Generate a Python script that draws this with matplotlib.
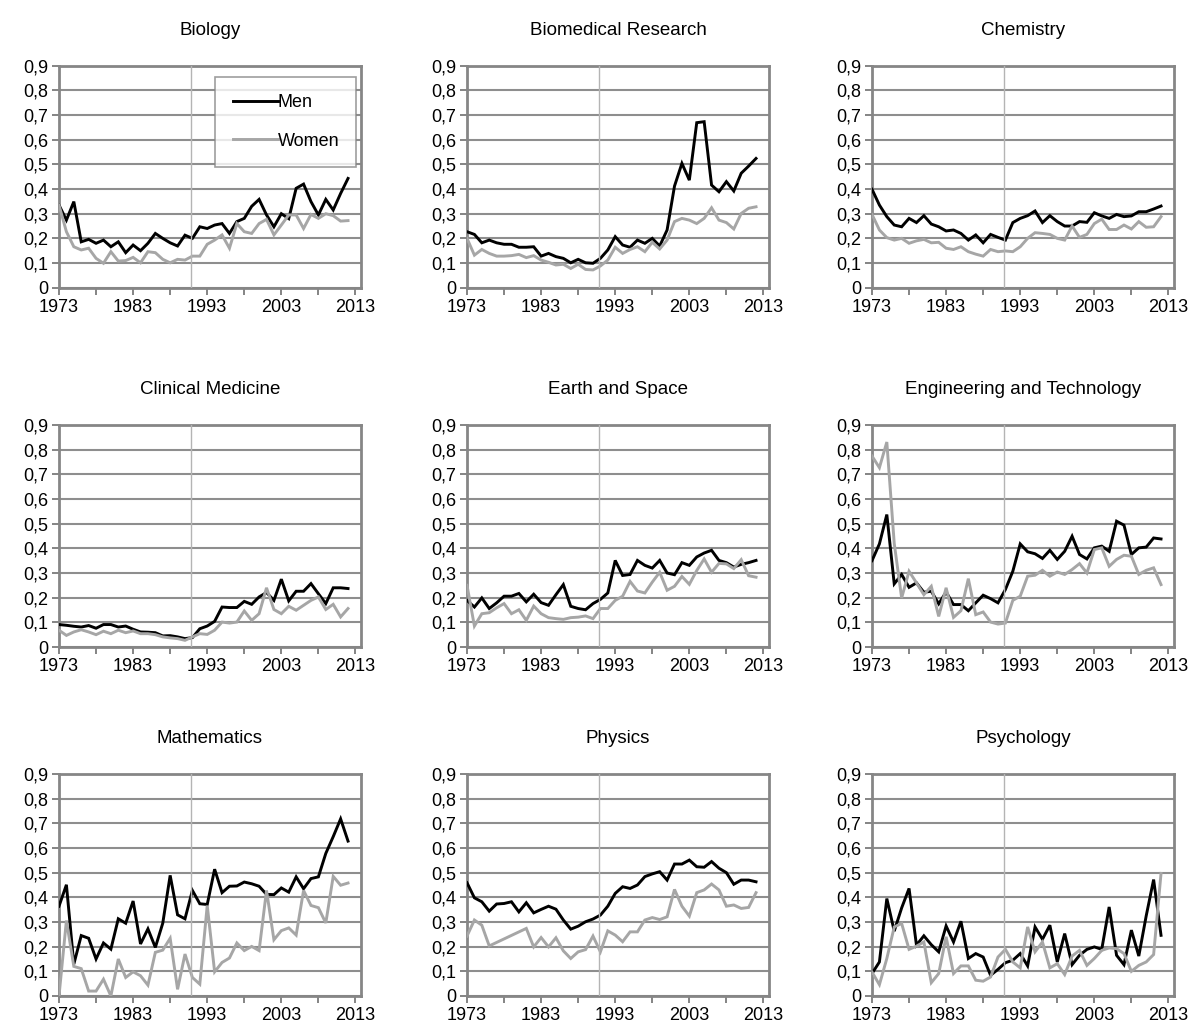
import numpy as np
import matplotlib
matplotlib.use("Agg")
import matplotlib.pyplot as plt
from matplotlib.ticker import FixedLocator, FuncFormatter

plt.rcParams['font.family'] = ['Liberation Sans', 'DejaVu Sans']

years = list(range(1973, 2013))
titles = ["Biology", "Biomedical Research", "Chemistry",
          "Clinical Medicine", "Earth and Space", "Engineering and Technology",
          "Mathematics", "Physics", "Psychology"]
series_labels = ["Men", "Women"]
xtick_years = [1973, 1978, 1983, 1988, 1993, 1998, 2003, 2008, 2013]
xtick_labels = ["1973", "", "1983", "", "1993", "", "2003", "", "2013"]
ytick_values = [0, 0.1, 0.2, 0.3, 0.4, 0.5, 0.6, 0.7, 0.8, 0.9]
marker_year = 1990.8

biology_men = [0.335, 0.274, 0.349, 0.186, 0.196, 0.18, 0.193, 0.166, 0.186, 0.142,
               0.173, 0.15, 0.18, 0.22, 0.2, 0.182, 0.169, 0.213, 0.2, 0.247,
               0.24, 0.254, 0.26, 0.22, 0.268, 0.281, 0.33, 0.358, 0.295, 0.247,
               0.3, 0.28, 0.403, 0.42, 0.349, 0.295, 0.358, 0.315, 0.382, 0.443]
biology_women = [0.335, 0.227, 0.166, 0.153, 0.16, 0.119, 0.099, 0.146, 0.108, 0.11,
                 0.123, 0.101, 0.146, 0.142, 0.115, 0.101, 0.115, 0.112, 0.128, 0.128,
                 0.176, 0.193, 0.214, 0.16, 0.26, 0.227, 0.22, 0.26, 0.277, 0.214,
                 0.254, 0.295, 0.295, 0.24, 0.297, 0.281, 0.3, 0.292, 0.27, 0.272]

biomed_men = [0.227, 0.216, 0.182, 0.193, 0.182, 0.176, 0.176, 0.164, 0.164, 0.166,
              0.128, 0.139, 0.126, 0.119, 0.101, 0.115, 0.101, 0.099, 0.119, 0.153,
              0.207, 0.173, 0.164, 0.193, 0.18, 0.2, 0.169, 0.234, 0.412, 0.504,
              0.436, 0.669, 0.673, 0.416, 0.389, 0.43, 0.392, 0.464, 0.493, 0.524]
biomed_women = [0.2, 0.132, 0.155, 0.139, 0.128, 0.128, 0.13, 0.135, 0.122, 0.13,
                0.112, 0.103, 0.092, 0.095, 0.078, 0.095, 0.074, 0.072, 0.088, 0.112,
                0.164, 0.139, 0.155, 0.166, 0.146, 0.184, 0.157, 0.193, 0.268, 0.281,
                0.274, 0.26, 0.281, 0.324, 0.274, 0.264, 0.238, 0.301, 0.322, 0.328]

chem_men = [0.399, 0.335, 0.288, 0.254, 0.247, 0.281, 0.264, 0.292, 0.258, 0.247,
            0.23, 0.234, 0.22, 0.193, 0.214, 0.182, 0.216, 0.204, 0.193, 0.264,
            0.281, 0.292, 0.311, 0.264, 0.292, 0.268, 0.25, 0.25, 0.268, 0.265,
            0.304, 0.291, 0.281, 0.297, 0.288, 0.291, 0.308, 0.308, 0.319, 0.331]
chem_women = [0.297, 0.234, 0.203, 0.193, 0.2, 0.18, 0.19, 0.196, 0.182, 0.184,
              0.16, 0.155, 0.166, 0.146, 0.136, 0.128, 0.155, 0.146, 0.149, 0.146,
              0.166, 0.2, 0.223, 0.22, 0.216, 0.2, 0.193, 0.25, 0.204, 0.216,
              0.26, 0.278, 0.236, 0.236, 0.254, 0.238, 0.268, 0.245, 0.247, 0.288]

clin_men = [0.091, 0.088, 0.084, 0.081, 0.087, 0.076, 0.091, 0.091, 0.081, 0.085,
            0.072, 0.061, 0.06, 0.058, 0.045, 0.046, 0.041, 0.034, 0.038, 0.074,
            0.085, 0.104, 0.162, 0.16, 0.16, 0.185, 0.173, 0.203, 0.221, 0.189,
            0.275, 0.187, 0.226, 0.226, 0.257, 0.216, 0.176, 0.24, 0.24, 0.237]
clin_women = [0.068, 0.047, 0.061, 0.07, 0.061, 0.05, 0.064, 0.054, 0.068, 0.058,
              0.065, 0.054, 0.054, 0.05, 0.041, 0.037, 0.034, 0.027, 0.041, 0.054,
              0.051, 0.068, 0.101, 0.097, 0.101, 0.146, 0.108, 0.135, 0.24, 0.152,
              0.135, 0.165, 0.149, 0.169, 0.189, 0.203, 0.152, 0.173, 0.122, 0.156]

earth_men = [0.189, 0.162, 0.199, 0.156, 0.179, 0.206, 0.206, 0.217, 0.183, 0.214,
             0.18, 0.169, 0.212, 0.253, 0.165, 0.156, 0.151, 0.176, 0.193, 0.219,
             0.351, 0.29, 0.294, 0.351, 0.331, 0.32, 0.351, 0.3, 0.293, 0.342,
             0.331, 0.365, 0.381, 0.392, 0.351, 0.342, 0.324, 0.335, 0.342, 0.351]
earth_women = [0.25, 0.085, 0.135, 0.139, 0.159, 0.176, 0.135, 0.151, 0.108, 0.166,
               0.135, 0.119, 0.115, 0.112, 0.119, 0.121, 0.126, 0.115, 0.156, 0.156,
               0.189, 0.206, 0.266, 0.227, 0.219, 0.263, 0.303, 0.23, 0.246, 0.286,
               0.254, 0.31, 0.357, 0.303, 0.339, 0.337, 0.318, 0.354, 0.289, 0.283]

eng_men = [0.35, 0.418, 0.537, 0.256, 0.294, 0.242, 0.26, 0.222, 0.226, 0.175,
           0.223, 0.172, 0.172, 0.147, 0.179, 0.21, 0.196, 0.179, 0.233, 0.307,
           0.418, 0.386, 0.378, 0.359, 0.392, 0.355, 0.388, 0.449, 0.375, 0.357,
           0.402, 0.409, 0.388, 0.51, 0.494, 0.375, 0.402, 0.405, 0.442, 0.438]
eng_women = [0.774, 0.727, 0.831, 0.42, 0.199, 0.307, 0.26, 0.212, 0.246, 0.124,
             0.24, 0.12, 0.147, 0.277, 0.131, 0.142, 0.101, 0.093, 0.097, 0.189,
             0.206, 0.287, 0.291, 0.311, 0.287, 0.304, 0.294, 0.314, 0.338, 0.3,
             0.395, 0.402, 0.327, 0.355, 0.372, 0.368, 0.294, 0.311, 0.321, 0.253]

math_men = [0.364, 0.451, 0.129, 0.245, 0.234, 0.15, 0.215, 0.19, 0.313, 0.295,
            0.385, 0.211, 0.272, 0.197, 0.295, 0.489, 0.329, 0.313, 0.428, 0.374,
            0.371, 0.514, 0.419, 0.445, 0.446, 0.462, 0.455, 0.445, 0.412, 0.411,
            0.438, 0.421, 0.483, 0.435, 0.476, 0.483, 0.578, 0.646, 0.718, 0.628]
math_women = [0.0, 0.306, 0.12, 0.111, 0.02, 0.02, 0.068, 0.0, 0.15, 0.075,
              0.098, 0.082, 0.044, 0.177, 0.186, 0.234, 0.027, 0.17, 0.075, 0.048,
              0.367, 0.098, 0.136, 0.154, 0.215, 0.184, 0.201, 0.184, 0.428, 0.228,
              0.265, 0.276, 0.247, 0.428, 0.367, 0.358, 0.296, 0.485, 0.449, 0.458]

phys_men = [0.459, 0.398, 0.382, 0.344, 0.373, 0.375, 0.382, 0.341, 0.378, 0.337,
            0.351, 0.364, 0.352, 0.308, 0.271, 0.283, 0.301, 0.312, 0.328, 0.364,
            0.416, 0.443, 0.436, 0.45, 0.484, 0.495, 0.504, 0.47, 0.535, 0.535,
            0.551, 0.524, 0.522, 0.545, 0.518, 0.5, 0.453, 0.47, 0.47, 0.463]
phys_women = [0.243, 0.308, 0.287, 0.203, None, None, None, None, 0.274, 0.199,
              0.237, 0.199, 0.236, 0.183, 0.152, 0.179, 0.188, 0.243, 0.179, 0.264,
              0.247, 0.22, 0.26, 0.26, 0.308, 0.318, 0.31, 0.321, 0.432, 0.364,
              0.324, 0.419, 0.43, 0.454, 0.43, 0.364, 0.369, 0.355, 0.359, 0.419]

psych_men = [0.091, 0.138, 0.395, 0.263, 0.357, 0.436, 0.206, 0.244, 0.208, 0.179,
             0.284, 0.219, 0.303, 0.152, 0.172, 0.158, 0.084, 0.108, 0.135, 0.145,
             0.172, 0.122, 0.28, 0.23, 0.287, 0.138, 0.253, 0.127, 0.165, 0.189,
             0.199, 0.189, 0.361, 0.165, 0.127, 0.267, 0.162, 0.325, 0.472, 0.246]
psych_women = [0.097, 0.046, 0.152, 0.28, 0.294, 0.189, 0.202, 0.219, 0.054, 0.091,
               0.24, 0.091, 0.122, 0.122, 0.064, 0.06, 0.077, 0.158, 0.189, 0.138,
               0.114, 0.28, 0.179, 0.219, 0.114, 0.131, 0.087, 0.162, 0.185, 0.124,
               0.152, 0.185, 0.195, 0.192, 0.172, 0.1, 0.124, 0.138, 0.168, 0.497]

panels = [
    (biology_men, biology_women), (biomed_men, biomed_women), (chem_men, chem_women),
    (clin_men, clin_women), (earth_men, earth_women), (eng_men, eng_women),
    (math_men, math_women), (phys_men, phys_women), (psych_men, psych_women),
]

W, H = 1200, 1034
fig = plt.figure(figsize=(W / 100, H / 100), dpi=100)

col_left = [59, 467, 872]
row_top = [65.7, 425, 774]
pw, ph = 302, 222

FRAME = "#868686"
GRID = "#8e8e8e"
WOMEN = "#a6a6a6"
FS = 13

def yfmt(v, pos):
    if abs(v) < 1e-9:
        return "0"
    return ("%.1f" % v).replace(".", ",")

for k, (men, women) in enumerate(panels):
    r, c = divmod(k, 3)
    left = col_left[c] / W
    bottom = 1 - (row_top[r] + ph) / H
    ax = fig.add_axes([left, bottom, pw / W, ph / H])

    yrs = np.array(years, dtype=float)
    for vals, color, lab in ((men, "black", series_labels[0]), (women, WOMEN, series_labels[1])):
        arr = np.array([np.nan if v is None else v for v in vals], dtype=float)
        m = ~np.isnan(arr)
        ax.plot(yrs[m], arr[m], color=color, lw=2.1, label=lab, zorder=3,
                solid_joinstyle="miter")

    ax.axvline(marker_year, color="#b4b4b4", lw=1.0, zorder=4)

    ax.set_xlim(1973, 2013.75)
    ax.set_ylim(0, 0.9)
    ax.yaxis.set_major_locator(FixedLocator(ytick_values))
    ax.yaxis.set_major_formatter(FuncFormatter(yfmt))
    ax.set_xticks(xtick_years)
    ax.set_xticklabels(xtick_labels)
    ax.grid(axis="y", color=GRID, lw=1.5, zorder=1)
    ax.set_axisbelow(True)
    for s in ax.spines.values():
        s.set_color(FRAME)
        s.set_linewidth(2.0)
    ax.tick_params(axis="both", direction="out", length=5, width=1.2, color="#707070",
                   labelsize=FS, pad=3)
    ax.set_title(titles[k], fontsize=FS + 0.5, pad=22)

    if k == 0:
        leg = ax.legend(loc="upper right", bbox_to_anchor=(0.985, 0.95), fontsize=FS,
                        frameon=True, fancybox=False, edgecolor=FRAME,
                        handlelength=2.5, handletextpad=0.0, labelspacing=1.2,
                        borderpad=0.95, borderaxespad=0.0)
        leg.get_frame().set_linewidth(1.2)

fig.savefig("out.png", dpi=100, facecolor="white")
